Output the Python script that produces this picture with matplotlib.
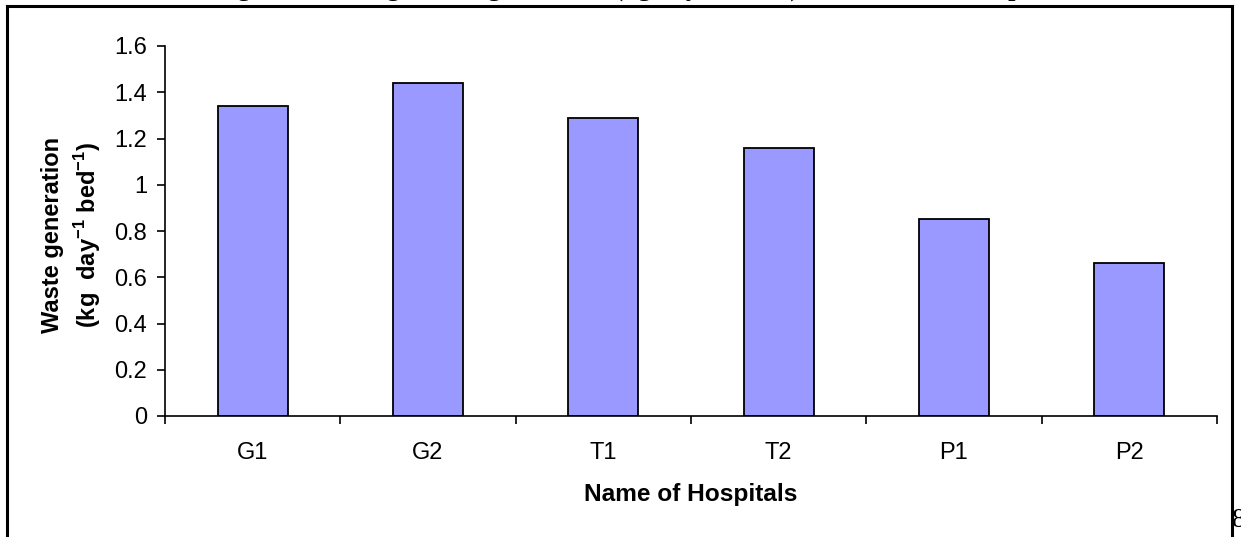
import numpy as np
import matplotlib
matplotlib.use('Agg')
import matplotlib.pyplot as plt
from matplotlib.lines import Line2D

hospitals = ['G1', 'G2', 'T1', 'T2', 'P1', 'P2']
waste_rate = [1.34, 1.44, 1.29, 1.16, 0.85, 0.66]
y_ticks = [0, 0.2, 0.4, 0.6, 0.8, 1.0, 1.2, 1.4, 1.6]
y_tick_labels = ['0', '0.2', '0.4', '0.6', '0.8', '1', '1.2', '1.4', '1.6']

plt.rcParams['font.family'] = 'Liberation Sans'
plt.rcParams['mathtext.fontset'] = 'custom'
plt.rcParams['mathtext.rm'] = 'Liberation Sans'
plt.rcParams['mathtext.bf'] = 'Liberation Sans:bold'

W, H = 1241, 537
fig = plt.figure(figsize=(W/100, H/100), dpi=100)

# axes box in pixels: x 165..1217, y 46..416 (from top)
ax = fig.add_axes([165/W, 1 - 416/H, (1217 - 165)/W, 370/H])
x = np.arange(len(hospitals))
ax.bar(x, waste_rate, width=0.4, color='#9999ff', edgecolor='black', linewidth=1.3)

ax.set_xlim(-0.5, len(hospitals) - 0.5)
ax.set_ylim(0, 1.6)
ax.spines['top'].set_visible(False)
ax.spines['right'].set_visible(False)
for s in ['left', 'bottom']:
    ax.spines[s].set_linewidth(1.2)

# category boundaries carry the tick marks, centres carry the labels
ax.set_xticks(np.arange(-0.5, len(hospitals), 1))
ax.set_xticklabels([])
ax.set_xticks(x, minor=True)
ax.set_xticklabels(hospitals, minor=True, fontsize=17)
ax.tick_params(axis='x', which='major', direction='out', length=6, width=1.2)
ax.tick_params(axis='x', which='minor', length=0, pad=19)

ax.set_yticks(y_ticks)
ax.set_yticklabels(y_tick_labels, fontsize=17)
ax.tick_params(axis='y', direction='out', length=6, width=1.2, pad=7)

fig.text(72/W, 1 - 235/H,
         'Waste generation\n(kg  day$^{\\mathbf{-1}}$ bed$^{\\mathbf{-1}}$)',
         rotation=90, ha='center', va='center', multialignment='center',
         fontsize=17, fontweight='bold', linespacing=1.3)
fig.text(691/W, 1 - 495/H, 'Name of Hospitals', ha='center', va='center',
         fontsize=17.6, fontweight='bold')

# page frame around the figure
lw = 2.2
fig.add_artist(Line2D([7/W, 7/W], [0, 1 - 6/H], color='black', lw=lw, transform=fig.transFigure))
fig.add_artist(Line2D([7/W, 1232/W], [1 - 6/H, 1 - 6/H], color='black', lw=lw, transform=fig.transFigure))
fig.add_artist(Line2D([1232/W, 1232/W], [0, 1 - 6/H], color='black', lw=lw, transform=fig.transFigure))

# caption above and page number at the side, both running off the edge
fig.text(642/W, 1 + 4.5/H,
         'Figure 2. Average waste generation (kg day\u207b\u00b9 bed\u207b\u00b9) in the selected hospitals',
         ha='center', va='baseline', fontsize=19, fontweight='bold',
         family=['Liberation Serif', 'DejaVu Serif'])
fig.text(1232/W, 1 - 527/H, '8', ha='left', va='baseline', fontsize=20,
         family='Liberation Serif')

fig.savefig('out.png', dpi=100)
